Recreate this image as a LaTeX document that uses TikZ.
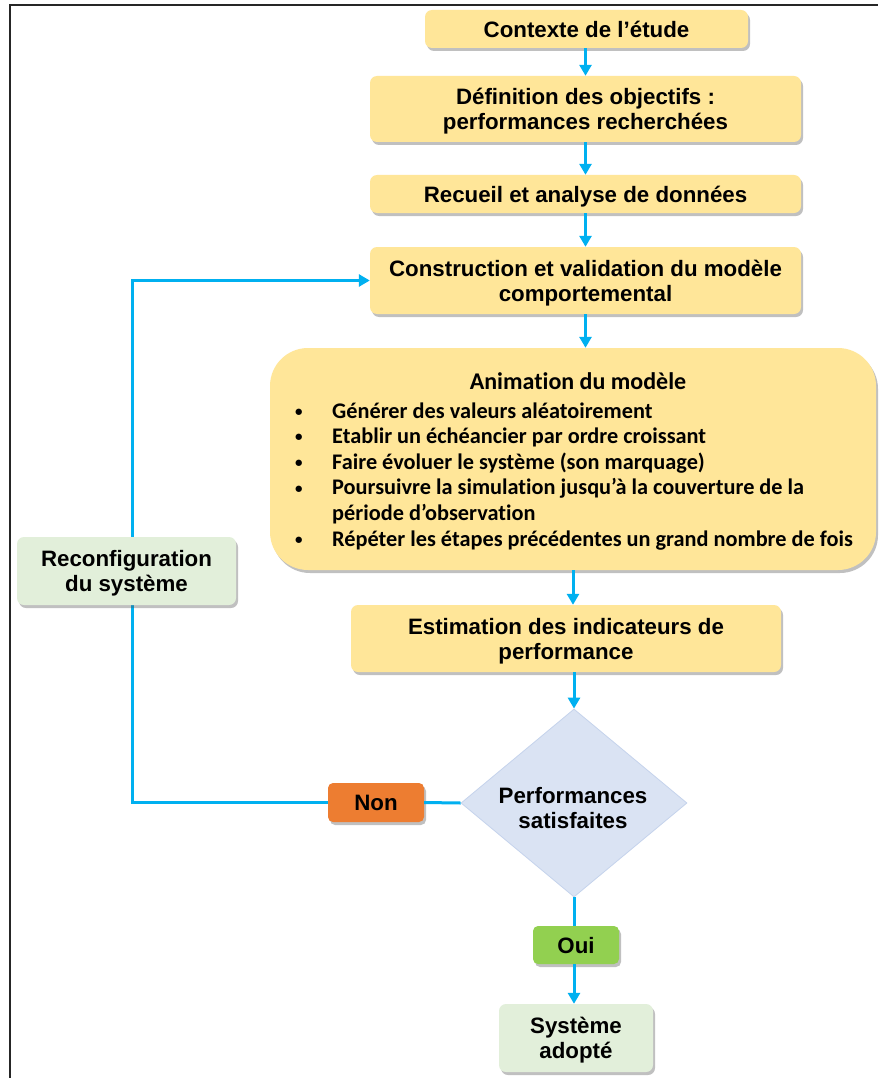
\documentclass[tikz,border=0pt]{standalone}
\usepackage{fontspec}
\setmainfont{Liberation Sans}[Ligatures=NoCommon]
\newfontfamily\calibfont{Carlito}[Ligatures=NoCommon]
\usetikzlibrary{arrows.meta,shapes.geometric,shadows}

\definecolor{stepyellow}{HTML}{FFE699}
\definecolor{palegreen}{HTML}{E2EFDA}
\definecolor{noorange}{HTML}{ED7D31}
\definecolor{yesgreen}{HTML}{92D050}
\definecolor{decisionfill}{HTML}{DAE3F3}
\definecolor{decisionline}{HTML}{C5D3EC}
\definecolor{flowblue}{HTML}{00B0F0}

\newcommand\boxfont{\bfseries\fontsize{22.3}{25}\selectfont}
\newcommand\animfont{\calibfont\bfseries\fontsize{22.3}{25.6}\selectfont}
\newcommand\smallbullet{\raisebox{1.8pt}{\fontsize{15}{15}\selectfont\textbullet}}

\tikzset{
  shade/.style={drop shadow={shadow xshift=2pt, shadow yshift=-3pt, opacity=0.35, fill=black!70}},
  stepbox/.style={fill=stepyellow, rounded corners=7pt, align=center, inner sep=0pt,
                  text depth=0pt, font=\boxfont, shade},
  greenbox/.style={stepbox, fill=palegreen},
  answer/.style={stepbox, rounded corners=5pt},
  decision/.style={diamond, fill=decisionfill, draw=decisionline, line width=0.8pt, inner sep=0pt},
  flow/.style={draw=flowblue, line width=3pt},
  arr/.style={flow, -{Triangle[width=12pt,length=11pt]}},
}

\begin{document}
\begin{tikzpicture}[x=1pt, y=-1pt]
  \useasboundingbox (0,0) rectangle (878,1078);
  \fill[white] (0,0) rectangle (878,1078);

  % outer frame
  \draw[line width=2pt, black!85] (10,1078) -- (10,5) -- (878,5);

  % main chain of steps
  \node[stepbox, minimum width=323pt, minimum height=38pt] (ctx) at (586.5,29) {Contexte de l’étude};
  \node[stepbox, minimum width=431pt, minimum height=66pt] (obj) at (585.5,109) {Définition des objectifs :\\performances recherchées};
  \node[stepbox, minimum width=431pt, minimum height=38pt] (data) at (585.5,194) {Recueil et analyse de données};
  \node[stepbox, minimum width=431pt, minimum height=67pt] (model) at (585.5,280.5) {Construction et validation du modèle\\comportemental};

  % simulation block
  \node[stepbox, rounded corners=38pt, minimum width=606pt, minimum height=222pt] (anim) at (573,459) {};
  \node[font=\calibfont\bfseries\fontsize{24}{26}\selectfont, inner sep=0pt] (animtitle) at (578,381) {Animation du modèle};
  \node[anchor=north west, inner sep=0pt, font=\animfont] (animlist) at (295,400) {%
    \renewcommand\arraystretch{1}%
    \begin{tabular}{@{}p{37pt}@{}l@{}}
      \smallbullet & Générer des valeurs aléatoirement\\
      \smallbullet & Etablir un échéancier par ordre croissant\\
      \smallbullet & Faire évoluer le système (son marquage)\\
      \smallbullet & Poursuivre la simulation jusqu’à la couverture de la\\
                   & période d’observation\\
      \smallbullet & Répéter les étapes précédentes un grand nombre de fois
    \end{tabular}};

  \node[stepbox, minimum width=430pt, minimum height=67pt] (perf) at (566,638.5) {Estimation des indicateurs de\\performance};

  % decision
  \node[decision, minimum width=226pt, minimum height=188pt] (test) at (574,803) {};
  \node[align=center, font=\boxfont, inner sep=0pt, text depth=0pt] (testtext) at (573,808) {Performances\\satisfaites};
  \node[answer, fill=noorange, minimum width=96pt, minimum height=39pt] (non) at (376,802.5) {Non};
  \node[answer, fill=yesgreen, minimum width=86pt, minimum height=38pt] (oui) at (576,945) {Oui};
  \node[greenbox, minimum width=154pt, minimum height=68pt] (adopt) at (576,1038) {Système\\adopté};

  % connectors
  \draw[arr] (ctx.south -| obj.north) -- (obj.north);
  \draw[arr] (obj.south) -- (data.north);
  \draw[arr] (data.south) -- (model.north);
  \draw[arr] (model.south) -- (model.south |- anim.north);
  \draw[arr] (anim.south) -- (anim.south |- perf.north);
  \draw[arr] (perf.south -| test.north) -- (test.north);
  \draw[flow] (test.west) -- (non.east);
  \draw[flow] (test.south) -- (test.south |- oui.north);
  \draw[arr] (oui.south -| test.south) -- (test.south |- adopt.north);

  % feedback loop through the reconfiguration step
  \coordinate (loopcorner) at (132,802.5);
  \draw[arr] (non.west) -- (loopcorner) -- (loopcorner |- model.west) -- (model.west);
  \node[greenbox, minimum width=219pt, minimum height=68pt] (recon) at (126.5,571) {Reconfiguration\\du système};
\end{tikzpicture}
\end{document}
